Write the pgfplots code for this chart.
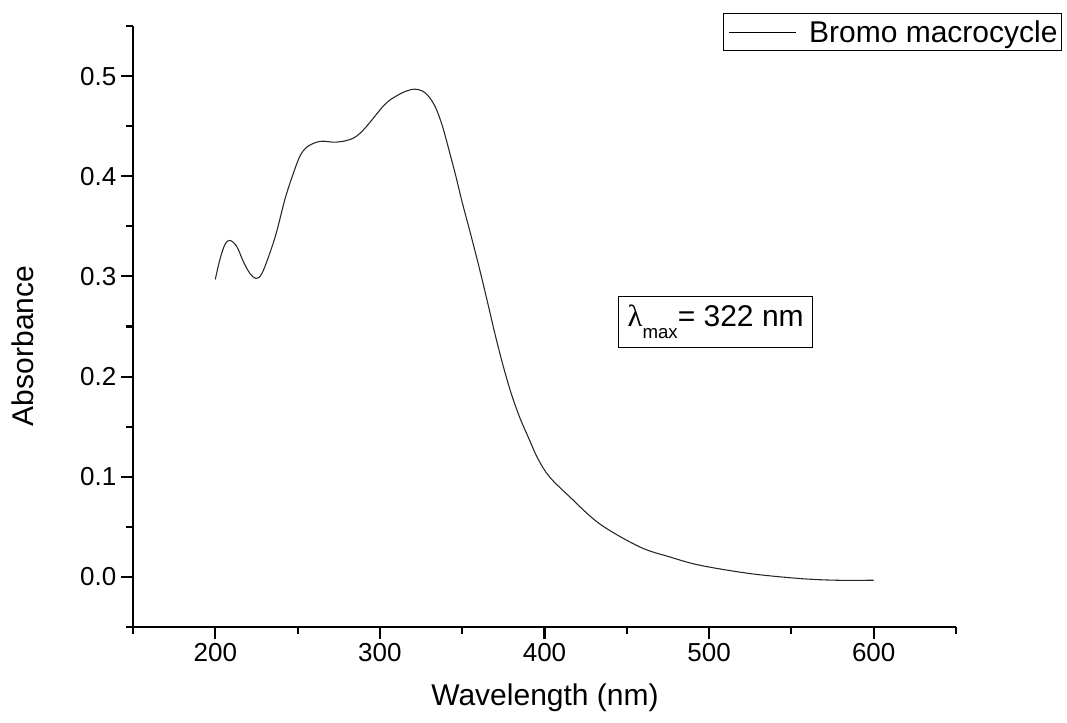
\documentclass[border=0pt]{standalone}
\usepackage{pgfplots}
\pgfplotsset{compat=1.18}
\usepackage{fontspec}
\setmainfont{Liberation Sans}
\newfontfamily\serifgreek{Liberation Serif}
\begin{document}
\begin{tikzpicture}
\useasboundingbox (-99.75pt,-71.25pt) rectangle (700.5pt,470.25pt);
\begin{axis}[
  scale only axis,
  width=617.25pt, height=450.75pt,
  xmin=150, xmax=650, ymin=-0.05, ymax=0.55,
  axis x line*=bottom, axis y line*=left,
  axis line style={line width=1.8pt, black},
  xtick={200,300,400,500,600},
  minor xtick={150,250,350,450,550,650},
  ytick={0,0.1,0.2,0.3,0.4,0.5},
  minor ytick={-0.05,0.05,0.15,0.25,0.35,0.45,0.55},
  tick align=outside,
  major tick length=9pt, minor tick length=5.25pt,
  every tick/.style={line width=1.6pt, black},
  /pgf/number format/assume math mode=true,
  ticklabel style={font=\fontsize{19.5}{19.5}\selectfont},
  yticklabel style={/pgf/number format/.cd, fixed, fixed zerofill, precision=1},
  xticklabel style={/pgf/number format/.cd, fixed, precision=0, 1000 sep={}},
  xlabel={Wavelength (nm)},
  ylabel={Absorbance},
  label style={font=\fontsize{22.5}{22.5}\selectfont},
  xlabel style={at={(axis description cs:0.5006,-0.1298)}, anchor=base},
  ylabel style={at={(axis description cs:-0.1337,0.4676)}, anchor=center, rotate=0},
  legend style={at={(axis description cs:1.1288,1.0211)}, anchor=north east,
    draw=black, line width=0.75pt, font=\fontsize{22.5}{22.5}\selectfont,
    inner xsep=1pt, inner ysep=3pt, cells={anchor=west}},
  legend image code/.code={\path[draw=none] (-3pt,0pt) -- (58pt,0pt);\draw[line width=0.75pt, black] (0pt,0pt) -- (50pt,0pt);},
  clip=false,
]
\addplot[line width=0.8pt, black!85, smooth, tension=0.55] coordinates {
(200,0.297) (202.8,0.317) (205.9,0.332) (208.9,0.336) (213,0.330) (217,0.315)
(221,0.303) (224.7,0.298) (228,0.302) (232,0.318) (237,0.343) (242.3,0.377)
(247,0.401) (251.4,0.420) (255.5,0.429) (261.5,0.434) (266,0.435) (271.6,0.434)
(278,0.435) (283.8,0.438) (288,0.443) (292,0.450) (297,0.460) (302,0.470)
(306,0.476) (312,0.482) (316,0.485) (321,0.487) (326,0.485) (330,0.479)
(334,0.468) (338,0.450) (342,0.426) (346,0.401) (350,0.374) (355,0.343)
(360,0.311) (365,0.277) (370,0.242) (375,0.210) (380,0.182) (385,0.159)
(390,0.140) (396,0.118) (403,0.100) (415.3,0.080) (433.5,0.053) (457.8,0.030)
(476,0.020) (494.3,0.0117) (524.6,0.0034) (555,-0.0016) (577,-0.0033) (600,-0.0033)
};
\addlegendentry{Bromo macrocycle}
\node[draw=black, line width=0.75pt, minimum width=145.5pt, minimum height=38pt,
  inner sep=0pt, font=\fontsize{22.5}{22.5}\selectfont] at (axis cs:504,0.2547)
  {{\serifgreek\fontsize{23}{23}\selectfont λ}\raisebox{-0.4em}{\fontsize{14}{14}\selectfont max}= 322 nm};
\end{axis}
\end{tikzpicture}
\end{document}
